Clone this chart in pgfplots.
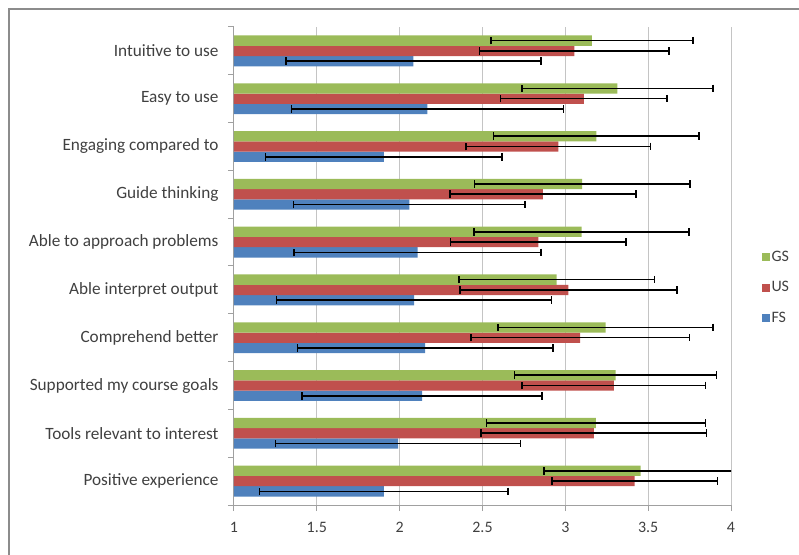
\documentclass[border=0pt]{standalone}
\usepackage{fontspec}
\setmainfont{Carlito}
\usepackage{pgfplots}
\pgfplotsset{compat=1.18}
\definecolor{gsc}{HTML}{9BBB59}
\definecolor{usc}{HTML}{C0504D}
\definecolor{fsc}{HTML}{4F81BD}
\definecolor{txt}{HTML}{404040}
\definecolor{axc}{HTML}{A0A0A0}
\definecolor{grc}{HTML}{C4C4C4}
\definecolor{brd}{HTML}{8C8C8C}
\begin{document}
\begin{tikzpicture}
\begin{axis}[
  name=ax,
  scale only axis, width=497bp, height=478bp,
  xbar=0pt, bar width=0.215,
  xmin=1, xmax=4, ymin=-0.5, ymax=9.5,
  xtick={1,1.5,...,4},
  ytick={-0.5,0.5,...,9.5}, yticklabels={},
  extra y ticks={0,1,2,3,4,5,6,7,8,9},
  extra y tick labels={Positive experience,Tools relevant to interest,Supported my course goals,Comprehend better,Able interpret output,Able to approach problems,Guide thinking,Engaging compared to,Easy to use,Intuitive to use},
  extra y tick style={major tick length=0pt, yticklabel style={xshift=-12bp, font=\fontsize{17.3}{20}\selectfont}},
  axis x line*=bottom, axis y line*=left,
  axis line style={axc, line width=1bp},
  tick align=outside, major tick length=6bp,
  tick style={axc, line width=1bp},
  xmajorgrids, grid style={grc, line width=1bp},
  /pgf/number format/assume math mode=true,
  tick label style={font=\fontsize{16}{19}\selectfont, text=txt},
  xticklabel style={yshift=-8bp},
  error bars/x dir=both, error bars/x explicit,
  error bars/error mark=|,
  error bars/error bar style={black, line width=1.6bp},
  error bars/error mark options={black, line width=1.6bp, mark size=3.8bp},
  legend style={at={(1.055,0.455)}, anchor=west, draw=none, fill=none,
    font=\fontsize{16}{19}\selectfont, text=txt, row sep=15bp},
  legend cell align=left,
  reverse legend,
  legend image code/.code={\fill[#1] (0bp,-4bp) rectangle (8bp,4bp);},
]
\addplot[fill=fsc, draw=none] coordinates {
(1.904,0) +- (0.75,0)
(1.990,1) +- (0.74,0)
(2.135,2) +- (0.725,0)
(2.154,3) +- (0.77,0)
(2.087,4) +- (0.83,0)
(2.108,5) +- (0.745,0)
(2.058,6) +- (0.70,0)
(1.904,7) +- (0.715,0)
(2.168,8) +- (0.82,0)
(2.083,9) +- (0.77,0)
};
\addplot[fill=usc, draw=none] coordinates {
(3.418,0) +- (0.50,0)
(3.172,1) +- (0.68,0)
(3.293,2) +- (0.554,0)
(3.090,3) +- (0.66,0)
(3.019,4) +- (0.655,0)
(2.838,5) +- (0.53,0)
(2.865,6) +- (0.56,0)
(2.958,7) +- (0.556,0)
(3.112,8) +- (0.503,0)
(3.054,9) +- (0.571,0)
};
\addplot[fill=gsc, draw=none] coordinates {
(3.455,0) +- (0.584,0)
(3.185,1) +- (0.66,0)
(3.303,2) +- (0.61,0)
(3.243,3) +- (0.65,0)
(2.948,4) +- (0.59,0)
(3.098,5) +- (0.65,0)
(3.102,6) +- (0.65,0)
(3.187,7) +- (0.62,0)
(3.314,8) +- (0.577,0)
(3.160,9) +- (0.61,0)
};
\legend{FS,US,GS}
\end{axis}
\pgfresetboundingbox
\path (ax.south west) ++(-234bp,-50bp) coordinate (O);
\path[use as bounding box] (O) rectangle ++(799bp,555bp);
\draw[brd, line width=2bp] ([shift={(9bp,-10bp)}]O) -- ([shift={(9bp,546bp)}]O) -- ([shift={(810bp,546bp)}]O);
\end{tikzpicture}
\end{document}
